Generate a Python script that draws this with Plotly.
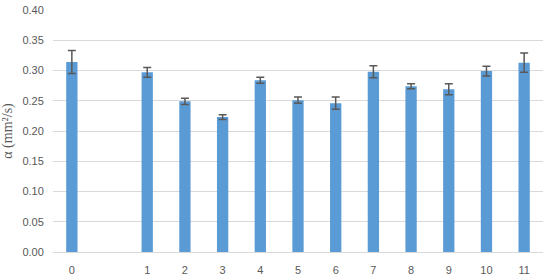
import plotly.graph_objects as go

labels = ["0", "1", "2", "3", "4", "5", "6", "7", "8", "9", "10", "11"]
values = [0.314, 0.297, 0.249, 0.223, 0.284, 0.251, 0.246, 0.298, 0.274, 0.269, 0.299, 0.313]
errors = [0.019, 0.008, 0.005, 0.004, 0.005, 0.005, 0.010, 0.010, 0.004, 0.009, 0.008, 0.016]
y_ticks = [0.00, 0.05, 0.10, 0.15, 0.20, 0.25, 0.30, 0.35, 0.40]
y_tick_labels = ["0.00", "0.05", "0.10", "0.15", "0.20", "0.25", "0.30", "0.35", "0.40"]

# slot positions: an empty slot between "0" and "1"
xpos = [0] + [i + 1 for i in range(1, len(labels))]

fig = go.Figure(go.Bar(
    x=xpos, y=values,
    marker=dict(color="#5B9BD5", line=dict(width=0)),
    width=0.3,
    error_y=dict(type="data", array=errors, visible=True,
                 color="#595959", thickness=1.5, width=4),
))

fig.update_layout(
    width=550, height=277,
    margin=dict(l=53, r=7, t=10, b=25, autoexpand=False),
    plot_bgcolor="white", paper_bgcolor="white",
    showlegend=False,
    font=dict(family="Liberation Sans, Arial", size=11, color="#595959"),
    xaxis=dict(
        range=[-0.5, 12.5], tickmode="array", tickvals=xpos, ticktext=labels,
        showgrid=False, zeroline=False, showline=False,
        ticks="outside", ticklen=8, tickcolor="rgba(0,0,0,0)",
        tickfont=dict(size=11, color="#595959"), automargin=False,
    ),
    yaxis=dict(
        range=[0, 0.40], tickmode="array", tickvals=y_ticks, ticktext=y_tick_labels,
        showgrid=True, gridcolor="#D9D9D9", gridwidth=1,
        zeroline=True, zerolinecolor="#D9D9D9", zerolinewidth=1,
        showline=False, ticks="outside", ticklen=6, tickcolor="rgba(0,0,0,0)",
        tickfont=dict(size=11, color="#595959"), automargin=False,
        title=dict(text="α (mm²/s)", standoff=12,
                   font=dict(family="Liberation Serif, Times New Roman", size=14, color="#595959")),
    ),
)

fig.write_html("out.html", config={"displayModeBar": False},
               post_script="document.body.style.margin='0';document.body.style.overflow='hidden';")
